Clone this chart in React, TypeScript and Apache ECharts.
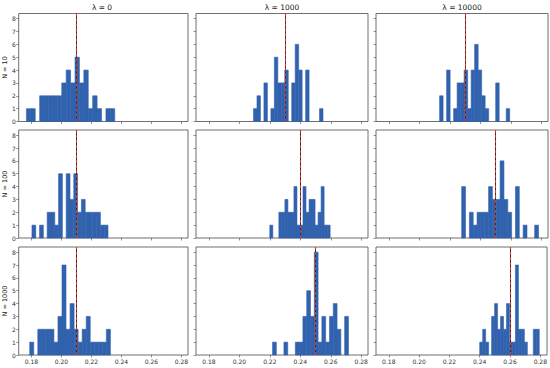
import React, { useEffect, useRef } from 'react';
import * as echarts from 'echarts';

const lambdaLabels = ['λ = 0', 'λ = 1000', 'λ = 10000'];
const sampleLabels = ['N = 10', 'N = 100', 'N = 1000'];
const xTicks = [0.18, 0.2, 0.22, 0.24, 0.26, 0.28];
const yTicks = [0, 1, 2, 3, 4, 5, 6, 7, 8];

// N = 10 (bin range [lo, hi] for lambda = 0, 1000, 10000)
const rangeN10 = [[0.1767, 0.2356], [0.2093, 0.2549], [0.2133, 0.2593]];
const countsN10L0 = [1, 1, 0, 2, 2, 2, 2, 2, 3, 4, 3, 5, 3, 4, 1, 2, 1, 0, 1, 1];
const countsN10L1000 = [1, 2, 0, 3, 0, 1, 5, 3, 3, 4, 0, 3, 6, 4, 0, 4, 0, 0, 0, 1];
const countsN10L10000 = [2, 0, 4, 0, 1, 3, 3, 4, 1, 4, 6, 4, 2, 1, 0, 0, 3, 0, 0, 1];
const meansN10 = [0.206, 0.2311, 0.2338];

// N = 100
const rangeN100 = [[0.1804, 0.2311], [0.22, 0.2596], [0.2278, 0.2782]];
const countsN100L0 = [1, 0, 1, 0, 2, 2, 1, 5, 0, 5, 3, 5, 2, 3, 2, 2, 2, 2, 1, 1];
const countsN100L1000 = [1, 0, 0, 2, 2, 3, 2, 2, 4, 1, 1, 4, 2, 3, 3, 1, 2, 4, 1, 1];
const countsN100L10000 = [4, 0, 2, 1, 2, 2, 2, 4, 3, 3, 6, 3, 2, 0, 4, 0, 1, 0, 0, 1];
const meansN100 = [0.2078, 0.2411, 0.25];

// N = 1000
const rangeN1000 = [[0.1789, 0.2327], [0.2218, 0.2716], [0.24, 0.2793]];
const countsN1000L0 = [1, 0, 2, 2, 2, 2, 1, 3, 7, 2, 4, 2, 1, 2, 3, 1, 1, 1, 1, 2];
const countsN1000L1000 = [1, 0, 0, 1, 0, 0, 1, 1, 3, 5, 3, 8, 1, 3, 1, 3, 4, 2, 0, 3];
const countsN1000L10000 = [1, 2, 1, 0, 3, 4, 2, 3, 2, 4, 1, 1, 7, 2, 2, 1, 0, 0, 2, 2];
const meansN1000 = [0.2056, 0.2522, 0.2591];

const ranges = [rangeN10, rangeN100, rangeN1000];
const counts = [
  [countsN10L0, countsN10L1000, countsN10L10000],
  [countsN100L0, countsN100L1000, countsN100L10000],
  [countsN1000L0, countsN1000L1000, countsN1000L10000],
];
const means = [meansN10, meansN100, meansN1000];

const BAR_FILL = '#3162ae';
const AXIS_COLOR = '#4a4a4a';
const FONT = 'DejaVu Sans';

const colLeft = [16, 196, 376];
const rowTop = [13.5, 130, 247];
const panelW = 172;
const panelH = 108;

function buildOption() {
  let dMin = Infinity;
  let dMax = -Infinity;
  ranges.forEach((r) => r.forEach(([lo, hi]) => { dMin = Math.min(dMin, lo); dMax = Math.max(dMax, hi); }));
  const pad = (dMax - dMin) * 0.05;
  const xMin = dMin - pad;
  const xMax = dMax + pad;
  const yMax = 8 * 1.05;

  const grid: any[] = [];
  const xAxis: any[] = [];
  const yAxis: any[] = [];
  const series: any[] = [];
  const graphic: any[] = [];

  for (let r = 0; r < 3; r++) {
    for (let c = 0; c < 3; c++) {
      const idx = r * 3 + c;
      grid.push({
        left: colLeft[c], top: rowTop[r], width: panelW, height: panelH,
        show: true, borderColor: AXIS_COLOR, borderWidth: 0.8, backgroundColor: 'transparent',
      });
      xAxis.push({
        type: 'value', gridIndex: idx, min: xMin, max: xMax,
        axisLine: { show: false }, splitLine: { show: false },
        axisTick: { show: true, customValues: xTicks, length: 2.5, lineStyle: { color: AXIS_COLOR, width: 0.6 } },
        axisLabel: {
          show: r === 2, customValues: xTicks, fontSize: 6, color: '#333', margin: 3.5, fontFamily: FONT,
          formatter: (v: number) => v.toFixed(2),
        },
      });
      yAxis.push({
        type: 'value', gridIndex: idx, min: 0, max: yMax,
        name: c === 0 ? sampleLabels[r] : '', nameLocation: 'middle', nameGap: 10, nameRotate: 90,
        nameTextStyle: { fontSize: 6.5, color: '#222', fontFamily: FONT },
        axisLine: { show: false }, splitLine: { show: false },
        axisTick: { show: true, customValues: yTicks, length: 2.5, lineStyle: { color: AXIS_COLOR, width: 0.6 } },
        axisLabel: { show: c === 0, customValues: yTicks, fontSize: 6, color: '#333', margin: 3, fontFamily: FONT },
      });
      const [lo, hi] = ranges[r][c];
      const cs = counts[r][c];
      const w = (hi - lo) / cs.length;
      const data = cs.map((n, i) => [lo + i * w, lo + (i + 1) * w, n]);
      series.push({
        type: 'custom', xAxisIndex: idx, yAxisIndex: idx, data,
        encode: { x: [0, 1], y: 2 },
        renderItem: (params: any, api: any) => {
          const n = api.value(2);
          if (!n) return { type: 'group', children: [] };
          const p0 = api.coord([api.value(0), n]);
          const p1 = api.coord([api.value(1), 0]);
          return {
            type: 'rect',
            shape: { x: p0[0], y: p0[1], width: p1[0] - p0[0], height: p1[1] - p0[1] },
            style: { fill: BAR_FILL, stroke: BAR_FILL, lineWidth: 0.6 },
          };
        },
        markLine: {
          silent: true, symbol: ['none', 'none'], label: { show: false },
          data: [
            { xAxis: means[r][c], lineStyle: { color: '#2a2a2a', type: 'solid', width: 1 } },
            { xAxis: means[r][c], lineStyle: { color: '#d03a2a', type: [3, 2], width: 1.1 } },
          ],
        },
        z: 2,
      });
    }
  }

  for (let c = 0; c < 3; c++) {
    graphic.push({
      type: 'text', x: colLeft[c] + panelW / 2, y: 7,
      style: { text: lambdaLabels[c], fontSize: 7.5, fill: '#222', fontFamily: FONT, textAlign: 'center', textVerticalAlign: 'middle' },
    });
  }

  return {
    animation: false,
    backgroundColor: '#ffffff',
    textStyle: { fontFamily: FONT },
    grid, xAxis, yAxis, series, graphic,
  };
}

export default function App() {
  const ref = useRef<HTMLDivElement>(null);
  useEffect(() => {
    if (!ref.current) return;
    const chart = echarts.init(ref.current, undefined, { renderer: 'svg' });
    chart.setOption(buildOption() as any);
    return () => chart.dispose();
  }, []);
  return <div ref={ref} style={{ position: 'fixed', left: 0, top: 0, width: 550, height: 368 }} />;
}
